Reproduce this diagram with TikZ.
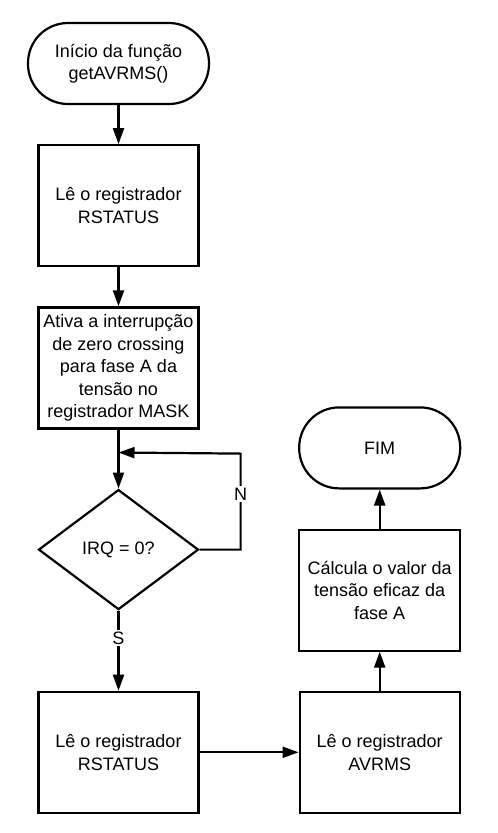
\documentclass[tikz,border=0pt]{standalone}
\usepackage{fontspec}
\setmainfont{Liberation Sans}
\usepackage{tikz}
\usetikzlibrary{positioning,shapes.geometric,arrows.meta}

\begin{document}
\begin{tikzpicture}[
    font=\fontsize{18}{22.5}\selectfont,
    line width=2.2pt,
    node distance=39pt,
    proc/.style={draw, rectangle, minimum width=160pt, minimum height=121pt, align=center, inner sep=0pt},
    term/.style={draw, rectangle, rounded corners=40pt, minimum height=81pt, align=center, inner sep=0pt},
    cond/.style={draw, diamond, minimum width=160pt, minimum height=120pt, inner sep=0pt},
    flow/.style={-{Triangle[length=16pt,width=11pt]}},
    lbl/.style={fill=white, inner sep=2pt}
]
    \useasboundingbox (0,0) rectangle (498pt,-833pt);
    \node (start) [term, minimum width=181pt] at (118.5pt,-63.5pt) {Início da função\\getAVRMS()};
    \node (read1) [proc, below=of start] {Lê o registrador\\RSTATUS};
    \node (mask) [proc, below=of read1] {Ativa a interrupção\\de zero crossing\\para fase A da\\tensão no\\registrador MASK};
    \node (irq) [cond, below=59pt of mask] {IRQ = 0?};
    \node (read2) [proc, below=80pt of irq] {Lê o registrador\\RSTATUS};
    \node (avrms) [proc, right=99pt of read2] {Lê o registrador\\AVRMS};
    \node (calc) [proc, minimum width=161pt, above=of avrms] {Cálcula o valor da\\tensão eficaz da\\fase A};
    \node (fim) [term, minimum width=161pt, above=of calc] {FIM};
    \coordinate [below=23pt of mask.south] (join);
    \draw [flow] (start) -- (read1);
    \draw [flow] (read1) -- (mask);
    \draw [flow] (mask) -- (irq);
    \draw [flow] (irq.east) -- ++(41pt,0) -- node [lbl, pos=0.58] {N} ++(0,96pt) -- (join);
    \draw [flow] (irq) -- node [lbl, pos=0.34] {S} (read2);
    \draw [flow] (read2) -- (avrms);
    \draw [flow] (avrms) -- (calc);
    \draw [flow] (calc) -- (fim);
\end{tikzpicture}
\end{document}
